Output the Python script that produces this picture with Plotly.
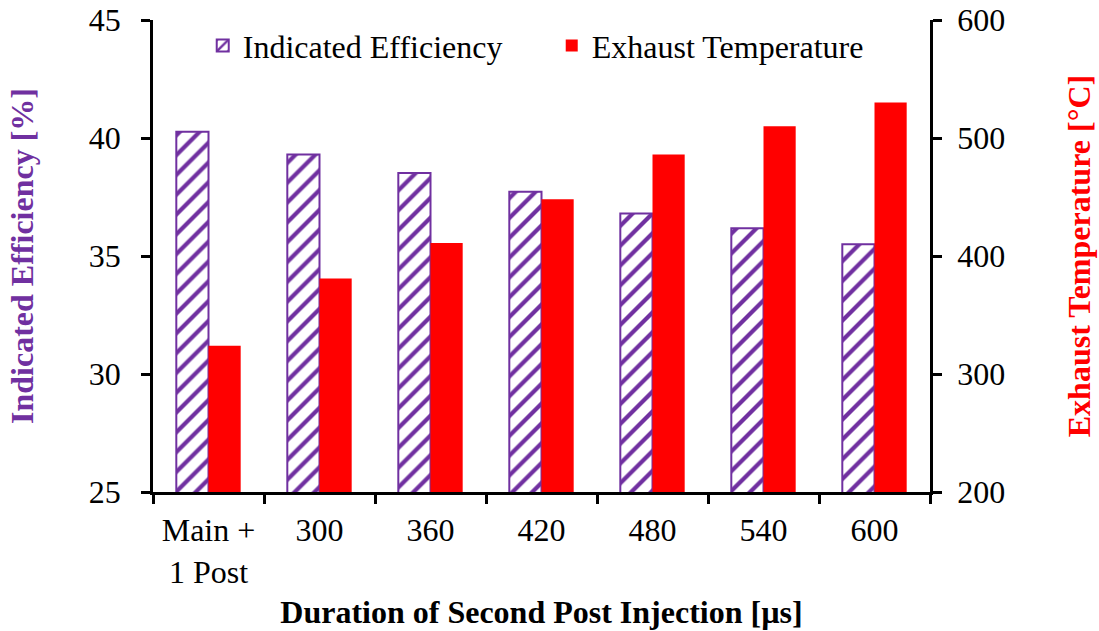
import plotly.graph_objects as go

categories = ["Main +<br>1 Post", "300", "360", "420", "480", "540", "600"]
efficiency = [40.27, 39.3, 38.52, 37.72, 36.8, 36.18, 35.5]
exhaust_temp = [324, 381, 411, 448, 486, 510, 530]

font_family = "Liberation Serif"
purple = "#7030A0"
red = "#FF0000"
FS = 32

fig = go.Figure()
fig.add_trace(go.Bar(
    x=categories, y=efficiency, name="Indicated Efficiency",
    offsetgroup="1", yaxis="y",
    marker=dict(color="white", line=dict(color=purple, width=2),
                pattern=dict(shape="/", fgcolor=purple, bgcolor="white", fgopacity=1,
                             size=14, solidity=0.3, fillmode="replace")),
))
fig.add_trace(go.Bar(
    x=categories, y=exhaust_temp, name="Exhaust Temperature",
    offsetgroup="2", yaxis="y2",
    marker=dict(color=red, line=dict(width=0)),
))

fig.update_layout(
    width=1099, height=631,
    margin=dict(l=153, r=169, t=20, b=139),
    plot_bgcolor="white", paper_bgcolor="white",
    font=dict(family=font_family, size=FS, color="black"),
    barmode="group", bargap=0.42, bargroupgap=0,
    showlegend=True,
    legend=dict(orientation="h", x=0.064, y=1.004, xanchor="left", yanchor="top",
                font=dict(size=FS), bgcolor="rgba(0,0,0,0)", itemwidth=30,
                tracegroupgap=0, entrywidth=304, entrywidthmode="pixels"),
    xaxis=dict(
        automargin=False,
        showline=True, linecolor="black", linewidth=2.5,
        ticks="outside", ticklen=9, tickwidth=2.5, tickcolor="black",
        tickson="boundaries", showgrid=False, ticklabelstandoff=8,
        tickfont=dict(size=FS),
        title=dict(text="<b>Duration of Second Post Injection [µs]</b>", font=dict(size=FS), standoff=12),
    ),
    yaxis=dict(
        automargin=False,
        range=[25, 45], dtick=5, showline=True, linecolor="black", linewidth=2.5,
        ticks="outside", ticklen=9, tickwidth=2.5, tickcolor="black", ticklabelstandoff=14,
        showgrid=False, zeroline=False, tickfont=dict(size=FS),
        title=dict(text="<b>Indicated Efficiency [%]</b>", font=dict(size=FS, color=purple), standoff=46),
    ),
    yaxis2=dict(
        automargin=False,
        range=[200, 600], dtick=100, overlaying="y", side="right",
        showline=True, linecolor="black", linewidth=2.5,
        ticks="outside", ticklen=9, tickwidth=2.5, tickcolor="black", ticklabelstandoff=9,
        showgrid=False, zeroline=False, tickfont=dict(size=FS),
        title=dict(text="<b>Exhaust Temperature [°C]</b>", font=dict(size=FS, color=red), standoff=64),
    ),
)

fig.write_html("out.html", config={"displayModeBar": False},
               post_script="document.body.style.margin='0px';")
